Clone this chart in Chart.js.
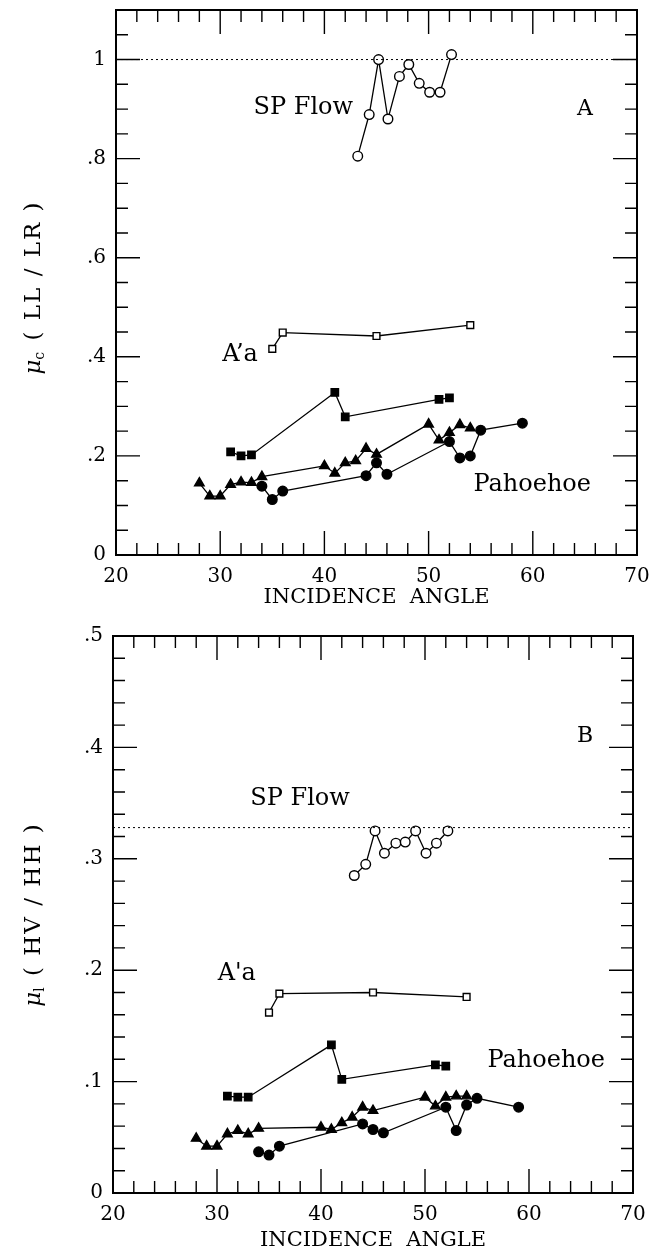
<!DOCTYPE html>
<html>
<head>
<meta charset="utf-8">
<script src="https://cdn.jsdelivr.net/npm/chart.js@4/dist/chart.umd.min.js"></script>
<style>
  html, body { margin: 0; padding: 0; background: #fff; }
  canvas { position: absolute; left: 0; }
  #chartA { top: 0; }
  #chartB { top: 610px; }
</style>
</head>
<body>
<canvas id="chartA" width="664" height="610"></canvas>
<canvas id="chartB" width="664" height="643"></canvas>
<script>
// incidence angles (deg) of each surface series
const spAngles = [43.2, 44.3, 45.2, 46.1, 47.2, 48.1, 49.1, 50.1, 51.1, 52.2];
const aaOpenAngles = [35, 36, 45, 54];
const aaFilledAngles = [31, 32, 33, 41, 42, 51, 52];
const triAngles = [28, 29, 30, 31, 32, 33, 34, 40, 41, 42, 43, 44, 45, 50, 51, 52, 53, 54];
const dotAngles = [34, 35, 36, 44, 45, 46, 52, 53, 54, 55, 59];
const refAngles = [20, 70];

// panel A : mu_c (LL / LR)
const spMuC = [0.805, 0.889, 1.0, 0.88, 0.966, 0.99, 0.952, 0.934, 0.934, 1.01];
const aaOpenMuC = [0.416, 0.449, 0.442, 0.464];
const aaFilledMuC = [0.208, 0.2, 0.202, 0.328, 0.279, 0.314, 0.317];
const triMuC = [0.145, 0.119, 0.119, 0.142, 0.147, 0.146, 0.158, 0.18, 0.165, 0.186, 0.19, 0.215, 0.203, 0.264, 0.232, 0.247, 0.263, 0.256];
const dotMuC = [0.139, 0.112, 0.129, 0.16, 0.186, 0.163, 0.229, 0.196, 0.2, 0.252, 0.266];
const refMuC = [1.0, 1.0];

// panel B : mu_l (HV / HH)
const spMuL = [0.285, 0.295, 0.325, 0.305, 0.314, 0.315, 0.325, 0.305, 0.314, 0.325];
const aaOpenMuL = [0.162, 0.179, 0.18, 0.176];
const aaFilledMuL = [0.087, 0.086, 0.086, 0.133, 0.102, 0.115, 0.114];
const triMuL = [0.049, 0.042, 0.042, 0.053, 0.056, 0.053, 0.058, 0.059, 0.057, 0.063, 0.068, 0.077, 0.074, 0.086, 0.078, 0.086, 0.087, 0.087];
const dotMuL = [0.037, 0.034, 0.042, 0.062, 0.057, 0.054, 0.077, 0.056, 0.079, 0.085, 0.077];
const refMuL = [0.328, 0.328];

// tick labels
const xTicks = [20, 30, 40, 50, 60, 70];
const yTicksA = [0, 0.2, 0.4, 0.6, 0.8, 1];
const yTicksB = [0, 0.1, 0.2, 0.3, 0.4, 0.5];

const FONT = "'DejaVu Serif', 'Liberation Serif', serif";

function pts(xs, ys) {
    return xs.map((x, i) => ({ x: x, y: ys[i] }));
}

function fmt(v) {
    if (v === 0) return '0';
    if (v === 1) return '1';
    return String(v).replace(/^0/, '');
}

// frame with inward ticks on four sides, y title with subscript, text notes
const frameTicks = {
    id: 'frameTicks',
    afterDatasetsDraw(chart, args, o) {
        const ctx = chart.ctx;
        const a = chart.chartArea;
        const xs = chart.scales.x, ys = chart.scales.y;
        ctx.save();
        ctx.strokeStyle = '#000';
        ctx.lineWidth = 2;
        ctx.strokeRect(a.left, a.top, a.right - a.left, a.bottom - a.top);

        ctx.lineWidth = 1.4;
        ctx.beginPath();
        let n = Math.round((xs.max - xs.min) / o.xMinor);
        for (let i = 1; i < n; i++) {
            const v = xs.min + i * o.xMinor;
            const major = Math.abs(v / o.xMajor - Math.round(v / o.xMajor)) < 1e-6;
            const len = major ? 24 : 12;
            const px = xs.getPixelForValue(v);
            ctx.moveTo(px, a.bottom); ctx.lineTo(px, a.bottom - len);
            ctx.moveTo(px, a.top); ctx.lineTo(px, a.top + len);
        }
        n = Math.round((ys.max - ys.min) / o.yMinor);
        for (let i = 1; i < n; i++) {
            const v = ys.min + i * o.yMinor;
            const major = Math.abs(v / o.yMajor - Math.round(v / o.yMajor)) < 1e-6;
            const len = major ? 24 : 12;
            const py = ys.getPixelForValue(v);
            ctx.moveTo(a.left, py); ctx.lineTo(a.left + len, py);
            ctx.moveTo(a.right, py); ctx.lineTo(a.right - len, py);
        }
        ctx.stroke();

        // notes
        ctx.fillStyle = '#000';
        ctx.textBaseline = 'middle';
        o.notes.forEach(nt => {
            ctx.font = nt.size + 'px ' + FONT;
            ctx.textAlign = nt.align;
            ctx.fillText(nt.text, xs.getPixelForValue(nt.x), ys.getPixelForValue(nt.y));
        });

        // rotated y title
        const t = o.yTitle;
        const f1 = 'italic 23px ' + FONT, f2 = '14px ' + FONT, f3 = '23px ' + FONT;
        ctx.font = f1; const w1 = ctx.measureText('μ').width;
        ctx.font = f2; const w2 = ctx.measureText(t.sub).width + 2;
        ctx.font = f3; ctx.letterSpacing = '2px'; const w3 = ctx.measureText(t.rest).width;
        ctx.letterSpacing = '0px';
        const total = w1 + w2 + w3;
        ctx.translate(t.x, (a.top + a.bottom) / 2 + t.dy);
        ctx.rotate(-Math.PI / 2);
        ctx.textAlign = 'left';
        ctx.textBaseline = 'alphabetic';
        let cx = -total / 2;
        ctx.font = f1; ctx.fillText('μ', cx, 8); cx += w1;
        ctx.font = f2; ctx.fillText(t.sub, cx, 12); cx += w2;
        ctx.font = f3; ctx.letterSpacing = '2px'; ctx.fillText(t.rest, cx, 8);
        ctx.letterSpacing = '0px';
        ctx.restore();
    }
};

function series(data, style, radius, filled) {
    return {
        data: data,
        showLine: true,
        borderColor: '#000',
        borderWidth: 1.3,
        pointStyle: style,
        pointRadius: radius,
        pointBorderWidth: 1.4,
        pointBorderColor: '#000',
        pointBackgroundColor: filled ? '#000' : '#fff'
    };
}

function refLine(data) {
    return {
        data: data,
        showLine: true,
        borderColor: '#000',
        borderWidth: 1,
        borderDash: [2, 3],
        pointRadius: 0
    };
}

function makeChart(id, d, pad, xHeight, yMax, yTicks, yMinor, yMajor, yTitle, notes) {
    const ctx = document.getElementById(id).getContext('2d');
    return new Chart(ctx, {
        type: 'scatter',
        data: {
            datasets: [
                refLine(pts(refAngles, d.ref)),
                series(pts(triAngles, d.tri), 'triangle', 5.5, true),
                series(pts(dotAngles, d.dot), 'circle', 4.8, true),
                series(pts(aaFilledAngles, d.aaFilled), 'rect', 5.2, true),
                series(pts(aaOpenAngles, d.aaOpen), 'rect', 4.8, false),
                series(pts(spAngles, d.sp), 'circle', 4.8, false)
            ]
        },
        options: {
            responsive: false,
            animation: false,
            layout: { padding: pad },
            plugins: {
                legend: { display: false },
                tooltip: { enabled: false },
                frameTicks: { xMinor: 2, xMajor: 10, yMinor: yMinor, yMajor: yMajor, yTitle: yTitle, notes: notes }
            },
            scales: {
                x: {
                    type: 'linear',
                    min: 20,
                    max: 70,
                    afterBuildTicks: s => { s.ticks = xTicks.map(v => ({ value: v })); },
                    afterFit: s => { s.height = xHeight; s.paddingLeft = 0; s.paddingRight = 0; },
                    grid: { display: false, drawTicks: false },
                    border: { display: false },
                    ticks: { padding: 10, color: '#000', font: { family: FONT, size: 20 }, maxRotation: 0, autoSkip: false, callback: v => fmt(v) },
                    title: { display: true, text: 'INCIDENCE  ANGLE', color: '#000', font: { family: FONT, size: 21 }, padding: 0 }
                },
                y: {
                    type: 'linear',
                    min: 0,
                    max: yMax,
                    afterBuildTicks: s => { s.ticks = yTicks.map(v => ({ value: v })); },
                    afterFit: s => { s.width = pad.yWidth; s.paddingTop = 0; s.paddingBottom = 0; },
                    grid: { display: false, drawTicks: false },
                    border: { display: false },
                    ticks: { padding: 10, color: '#000', font: { family: FONT, size: 20 }, autoSkip: false, callback: v => fmt(v) }
                }
            }
        },
        plugins: [frameTicks]
    });
}

makeChart('chartA',
    { ref: refMuC, tri: triMuC, dot: dotMuC, aaFilled: aaFilledMuC, aaOpen: aaOpenMuC, sp: spMuC },
    { top: 10, right: 27, bottom: 0, left: 0, yWidth: 116 }, 55, 1.1, yTicksA, 0.05, 0.2,
    { x: 32, dy: 5, sub: 'c', rest: ' ( LL / LR )' },
    [
        { text: 'SP Flow', x: 33.2, y: 0.903, align: 'left', size: 24 },
        { text: 'A', x: 65.0, y: 0.899, align: 'center', size: 22 },
        { text: 'A\u2019a', x: 31.9, y: 0.404, align: 'center', size: 24 },
        { text: 'Pahoehoe', x: 54.3, y: 0.141, align: 'left', size: 24 }
    ]);

makeChart('chartB',
    { ref: refMuL, tri: triMuL, dot: dotMuL, aaFilled: aaFilledMuL, aaOpen: aaOpenMuL, sp: spMuL },
    { top: 26, right: 31, bottom: 0, left: 0, yWidth: 113 }, 60, 0.5, yTicksB, 0.02, 0.1,
    { x: 32, dy: 0, sub: 'l', rest: ' ( HV / HH )' },
    [
        { text: 'SP Flow', x: 33.2, y: 0.354, align: 'left', size: 24 },
        { text: 'B', x: 65.4, y: 0.41, align: 'center', size: 22 },
        { text: 'A\'a', x: 31.9, y: 0.197, align: 'center', size: 24 },
        { text: 'Pahoehoe', x: 56.0, y: 0.119, align: 'left', size: 24 }
    ]);
</script>
</body>
</html>
